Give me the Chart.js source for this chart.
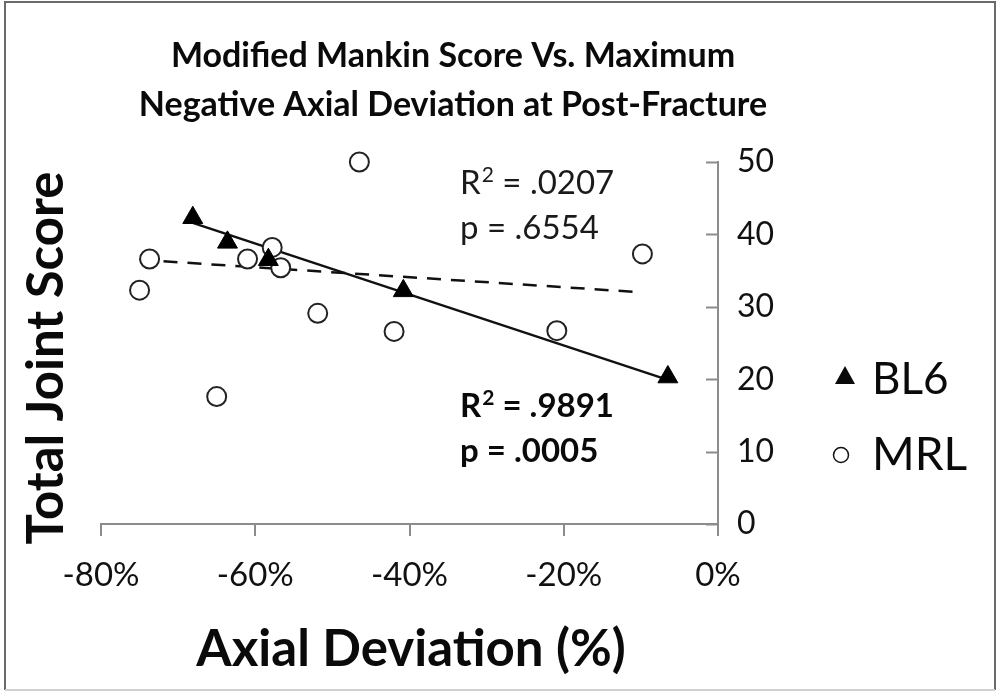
<!DOCTYPE html>
<html>
<head>
<meta charset="utf-8">
<script src="https://cdn.jsdelivr.net/npm/chart.js@4.4.1/dist/chart.umd.min.js"></script>
<style>
  html, body { margin: 0; padding: 0; background: #ffffff; }
  #wrap { width: 997px; height: 696px; position: relative; }
</style>
</head>
<body>
<div id="wrap"><canvas id="c" width="997" height="696"></canvas></div>
<script>
// ---- data ----
const titleLines = ['Modified Mankin Score Vs. Maximum', 'Negative Axial Deviation at Post-Fracture'];
const xTitle = 'Axial Deviation (%)';
const yTitle = 'Total Joint Score';
const seriesNames = ['BL6', 'MRL'];

const bl6X = [-68.1, -63.6, -58.3, -40.8, -6.5];
const bl6Y = [42.3, 38.9, 36.5, 32.2, 20.3];

const mrlX = [-75.0, -73.7, -65.0, -61.0, -57.8, -56.7, -51.9, -46.5, -42.0, -20.9, -9.8];
const mrlY = [32.3, 36.6, 17.6, 36.6, 38.2, 35.4, 29.1, 50.0, 26.6, 26.7, 37.3];

// trendline end points
const bl6TrendX = [-68.1, -6.5];
const bl6TrendY = [41.6, 19.9];
const mrlTrendX = [-75.0, -9.8];
const mrlTrendY = [36.5, 32.0];

const xTicks = [-80, -60, -40, -20, 0];
const yTicks = [0, 10, 20, 30, 40, 50];

const mrlStats = ['.0207', '.6554'];
const bl6Stats = ['.9891', '.0005'];

const FONT = 'Lato, "Open Sans", sans-serif';
const toPts = (xs, ys) => xs.map((x, i) => ({ x: x, y: ys[i] }));

const deco = {
  id: 'deco',
  afterDraw(chart) {
    const ctx = chart.ctx;
    const xs = chart.scales.x, ys = chart.scales.y;
    ctx.save();
    // outer frame
    ctx.strokeStyle = '#6a6a6a';
    ctx.lineWidth = 2;
    ctx.beginPath();
    ctx.moveTo(5, 690); ctx.lineTo(5, 2); ctx.lineTo(995, 2); ctx.lineTo(995, 690);
    ctx.stroke();
    ctx.strokeStyle = '#d0d0d0';
    ctx.beginPath(); ctx.moveTo(5, 690); ctx.lineTo(995, 690); ctx.stroke();

    // inward y tick marks
    ctx.strokeStyle = '#8c8c8c';
    ctx.lineWidth = 2;
    const ax = xs.getPixelForValue(0);
    yTicks.forEach(v => {
      const py = Math.round(ys.getPixelForValue(v)) + 0.5;
      ctx.beginPath(); ctx.moveTo(ax - 12, py); ctx.lineTo(ax, py); ctx.stroke();
    });

    // title
    ctx.fillStyle = '#0a0a0a';
    ctx.textAlign = 'center';
    ctx.textBaseline = 'alphabetic';
    ctx.font = 'bold 34px ' + FONT;
    ctx.fillText(titleLines[0], 453, 67);
    ctx.fillText(titleLines[1], 453, 116);

    // axis titles
    ctx.font = 'bold 51px ' + FONT;
    ctx.textBaseline = 'middle';
    ctx.fillText(xTitle, 411, 650);
    ctx.save();
    ctx.translate(47, 358);
    ctx.rotate(-Math.PI / 2);
    ctx.fillText(yTitle, 0, 0);
    ctx.restore();

    // statistics annotations
    ctx.textBaseline = 'alphabetic';
    const drawStat = (r2, p, x, y1, y2, bold) => {
      const w = bold ? 'bold ' : '';
      ctx.textAlign = 'left';
      ctx.font = w + '33px ' + FONT;
      let cx = x;
      ctx.fillText('R', cx, y1); cx += ctx.measureText('R').width + 1;
      ctx.font = w + '21px ' + FONT;
      ctx.fillText('2', cx, y1 - 12); cx += ctx.measureText('2').width;
      ctx.font = w + '33px ' + FONT;
      ctx.fillText(' = ' + r2, cx, y1);
      ctx.fillText('p = ' + p, x, y2);
    };
    ctx.fillStyle = '#1a1a1a';
    drawStat(mrlStats[0], mrlStats[1], 460, 194, 239, false);
    ctx.fillStyle = '#0a0a0a';
    drawStat(bl6Stats[0], bl6Stats[1], 460, 417, 462, true);

    // legend
    ctx.fillStyle = '#0a0a0a';
    ctx.font = '44px ' + FONT;
    ctx.textAlign = 'left';
    ctx.textBaseline = 'middle';
    ctx.beginPath();
    ctx.moveTo(845, 366); ctx.lineTo(855, 384); ctx.lineTo(835, 384); ctx.closePath();
    ctx.fill();
    ctx.fillText(seriesNames[0], 872, 380);
    ctx.beginPath();
    ctx.arc(841, 455, 7.5, 0, Math.PI * 2);
    ctx.lineWidth = 1.5;
    ctx.strokeStyle = '#111';
    ctx.stroke();
    ctx.font = '46px ' + FONT;
    ctx.fillText(seriesNames[1], 872, 455);
    ctx.restore();
  }
};

new Chart(document.getElementById('c'), {
  data: {
    datasets: [
      {
        type: 'line', label: 'BL6 trend', data: toPts(bl6TrendX, bl6TrendY),
        borderColor: '#111', borderWidth: 2.5, pointRadius: 0, fill: false, order: 3, clip: false
      },
      {
        type: 'line', label: 'MRL trend', data: toPts(mrlTrendX, mrlTrendY),
        borderColor: '#111', borderWidth: 2.5, borderDash: [14, 10], pointRadius: 0, fill: false, order: 4, clip: false
      },
      {
        type: 'scatter', label: seriesNames[1], data: toPts(mrlX, mrlY),
        pointStyle: 'circle', pointRadius: 9.5, pointBackgroundColor: '#ffffff',
        pointBorderColor: '#222', pointBorderWidth: 2, order: 2, clip: false
      },
      {
        type: 'scatter', label: seriesNames[0], data: toPts(bl6X, bl6Y),
        pointStyle: 'triangle', pointRadius: 11.5, pointBackgroundColor: '#000',
        pointBorderColor: '#000', pointBorderWidth: 1, order: 1, clip: false
      }
    ]
  },
  options: {
    responsive: false,
    animation: false,
    events: [],
    layout: { padding: { left: 101, top: 162, right: 0, bottom: 0 } },
    plugins: { legend: { display: false }, title: { display: false }, tooltip: { enabled: false } },
    scales: {
      x: {
        type: 'linear', position: 'bottom', min: -80, max: 0,
        afterBuildTicks: s => { s.ticks = xTicks.map(v => ({ value: v })); },
        afterFit: s => { s.height = 172; },
        grid: { drawOnChartArea: false, drawTicks: true, tickLength: 12, color: '#8c8c8c', lineWidth: 2 },
        border: { display: true, color: '#8c8c8c', width: 2 },
        ticks: { callback: v => v + '%', color: '#111', font: { family: FONT, size: 33 }, padding: 20, maxRotation: 0 }
      },
      y: {
        type: 'linear', position: 'right', min: 0, max: 50,
        afterBuildTicks: s => { s.ticks = yTicks.map(v => ({ value: v })); },
        afterFit: s => { s.width = 279; },
        grid: { drawOnChartArea: false, drawTicks: false },
        border: { display: true, color: '#8c8c8c', width: 2 },
        ticks: { color: '#111', font: { family: FONT, size: 32 }, padding: 19 }
      }
    }
  },
  plugins: [deco]
});
</script>
</body>
</html>
